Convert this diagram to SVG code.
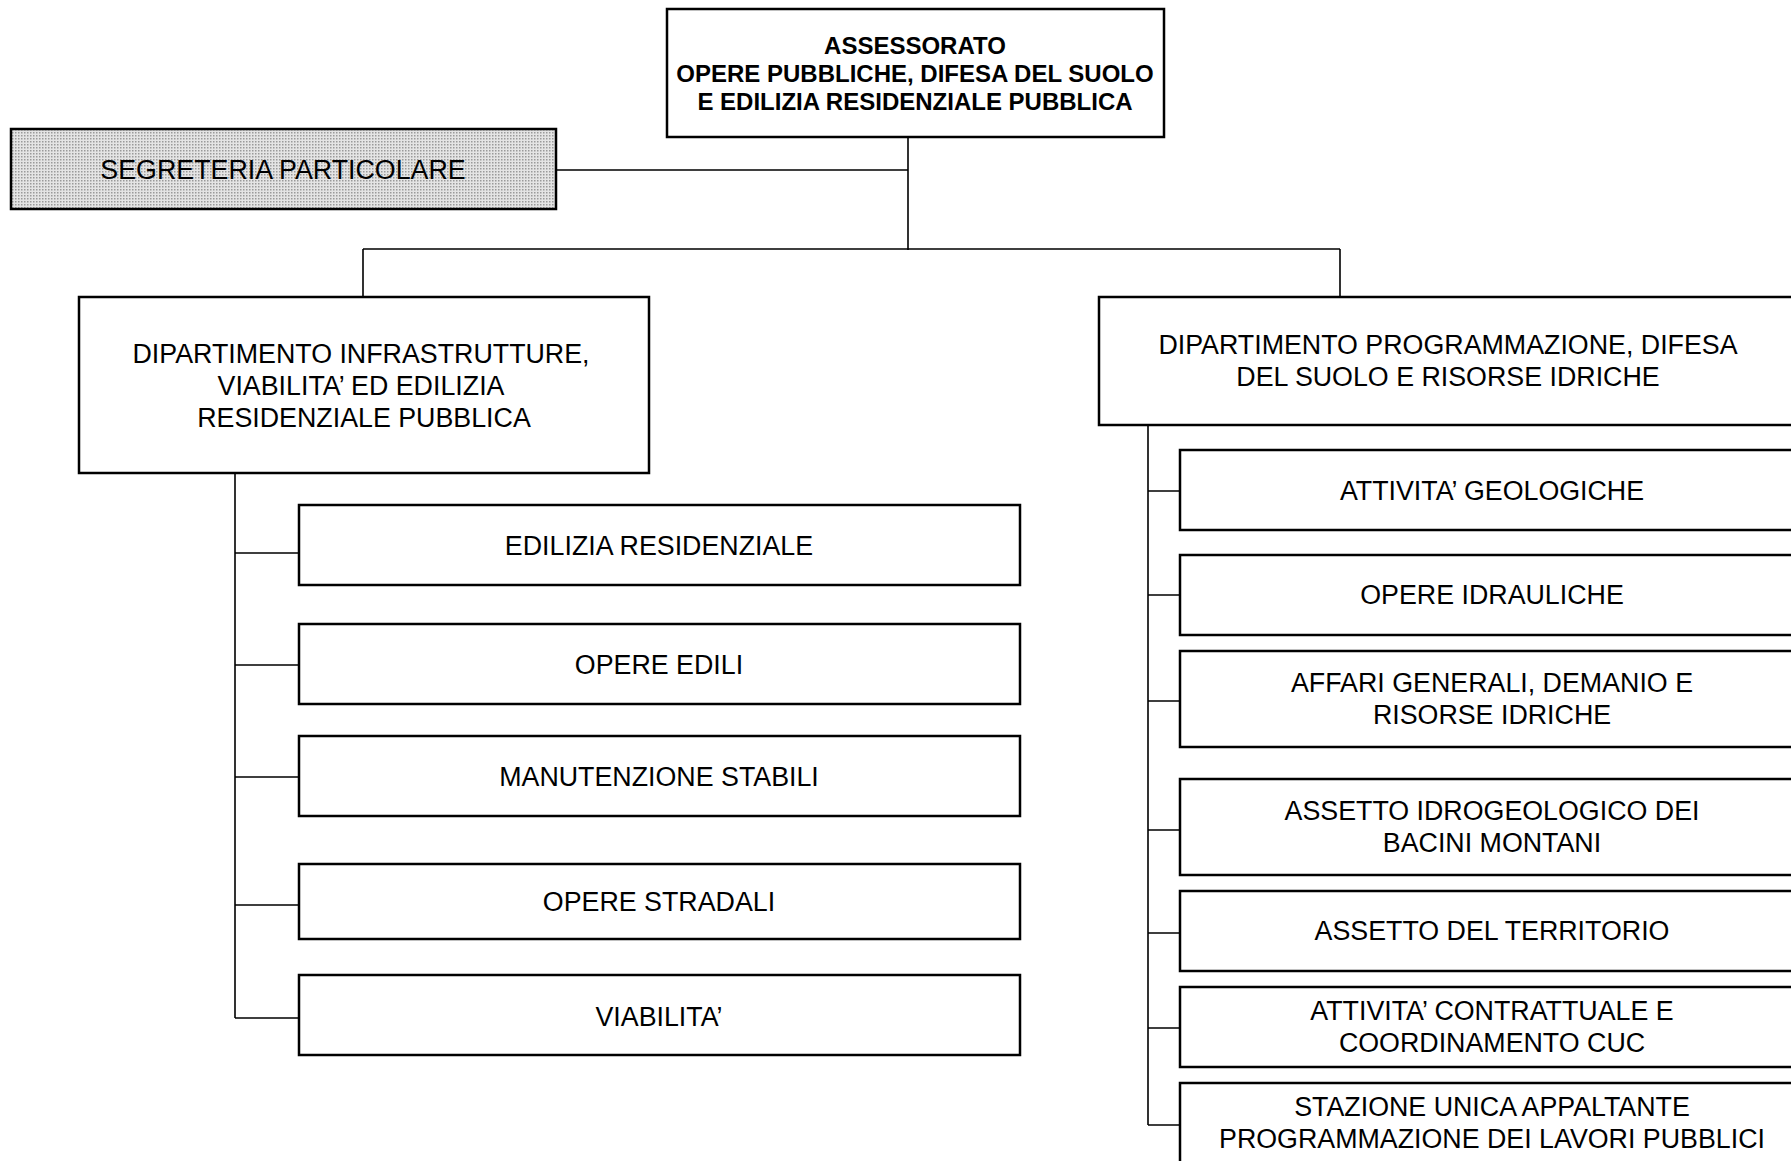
<svg xmlns="http://www.w3.org/2000/svg" width="1791" height="1161" viewBox="0 0 1791 1161">
<style>
.box{fill:#fff;stroke:#000;stroke-width:2.5}
.gray{fill:url(#dots);stroke:#000;stroke-width:2.5}
.t{font-family:"Liberation Sans",Arial,sans-serif;font-size:26.8px;fill:#000;text-anchor:middle}
.b{font-family:"Liberation Sans",Arial,sans-serif;font-size:24px;font-weight:bold;fill:#000;text-anchor:middle}
.c{fill:none;stroke:#000;stroke-width:1.6}
</style>
<defs>
<pattern id="dots" width="3" height="3" patternUnits="userSpaceOnUse">
<rect width="3" height="3" fill="#e4e4e4"/>
<rect width="1.5" height="1.5" fill="#9a9a9a"/>
</pattern>
</defs>
<g id="connectors">
<path class="c" d="M556 170H908M908 137V250M363 249H1340M363 249V297M1340 249V297"/>
<path class="c" d="M235 473V1018M235 553H299M235 665H299M235 777H299M235 905H299M235 1018H299"/>
<path class="c" d="M1148 425V1125M1148 491H1180M1148 595H1180M1148 701H1180M1148 830H1180M1148 933H1180M1148 1028H1180M1148 1125H1180"/>
</g>
<g id="assessorato">
<rect class="box" x="667" y="9" width="497" height="128"/>
<text class="b" x="915" y="54">ASSESSORATO</text>
<text class="b" x="915" y="82">OPERE PUBBLICHE, DIFESA DEL SUOLO</text>
<text class="b" x="915" y="110">E EDILIZIA RESIDENZIALE PUBBLICA</text>
</g>
<g id="segreteria">
<rect class="gray" x="11" y="129" width="545" height="80"/>
<text class="t" x="283" y="179">SEGRETERIA PARTICOLARE</text>
</g>
<g id="dip-infrastrutture">
<rect class="box" x="79" y="297" width="570" height="176"/>
<text class="t" x="361" y="363">DIPARTIMENTO INFRASTRUTTURE,</text>
<text class="t" x="361" y="395">VIABILITA’ ED EDILIZIA</text>
<text class="t" x="364" y="427">RESIDENZIALE PUBBLICA</text>
</g>
<g id="dip-programmazione">
<rect class="box" x="1099" y="297" width="710" height="128"/>
<text class="t" x="1448" y="354">DIPARTIMENTO PROGRAMMAZIONE, DIFESA</text>
<text class="t" x="1448" y="386">DEL SUOLO E RISORSE IDRICHE</text>
</g>
<g id="edilizia-residenziale">
<rect class="box" x="299" y="505" width="721" height="80"/>
<text class="t" x="659" y="555">EDILIZIA RESIDENZIALE</text>
</g>
<g id="opere-edili">
<rect class="box" x="299" y="624" width="721" height="80"/>
<text class="t" x="659" y="674">OPERE EDILI</text>
</g>
<g id="manutenzione-stabili">
<rect class="box" x="299" y="736" width="721" height="80"/>
<text class="t" x="659" y="786">MANUTENZIONE STABILI</text>
</g>
<g id="opere-stradali">
<rect class="box" x="299" y="864" width="721" height="75"/>
<text class="t" x="659" y="911">OPERE STRADALI</text>
</g>
<g id="viabilita">
<rect class="box" x="299" y="975" width="721" height="80"/>
<text class="t" x="659" y="1026">VIABILITA’</text>
</g>
<g id="attivita-geologiche">
<rect class="box" x="1180" y="450" width="630" height="80"/>
<text class="t" x="1492" y="500">ATTIVITA’ GEOLOGICHE</text>
</g>
<g id="opere-idrauliche">
<rect class="box" x="1180" y="555" width="630" height="80"/>
<text class="t" x="1492" y="604">OPERE IDRAULICHE</text>
</g>
<g id="affari-generali">
<rect class="box" x="1180" y="651" width="630" height="96"/>
<text class="t" x="1492" y="692">AFFARI GENERALI, DEMANIO E</text>
<text class="t" x="1492" y="724">RISORSE IDRICHE</text>
</g>
<g id="assetto-idrogeologico">
<rect class="box" x="1180" y="779" width="630" height="96"/>
<text class="t" x="1492" y="820">ASSETTO IDROGEOLOGICO DEI</text>
<text class="t" x="1492" y="852">BACINI MONTANI</text>
</g>
<g id="assetto-territorio">
<rect class="box" x="1180" y="891" width="630" height="80"/>
<text class="t" x="1492" y="940">ASSETTO DEL TERRITORIO</text>
</g>
<g id="attivita-contrattuale">
<rect class="box" x="1180" y="987" width="630" height="80"/>
<text class="t" x="1492" y="1020">ATTIVITA’ CONTRATTUALE E</text>
<text class="t" x="1492" y="1052">COORDINAMENTO CUC</text>
</g>
<g id="stazione-unica">
<rect class="box" x="1180" y="1083" width="630" height="100"/>
<text class="t" x="1492" y="1116">STAZIONE UNICA APPALTANTE</text>
<text class="t" x="1492" y="1148">PROGRAMMAZIONE DEI LAVORI PUBBLICI</text>
</g>
</svg>
